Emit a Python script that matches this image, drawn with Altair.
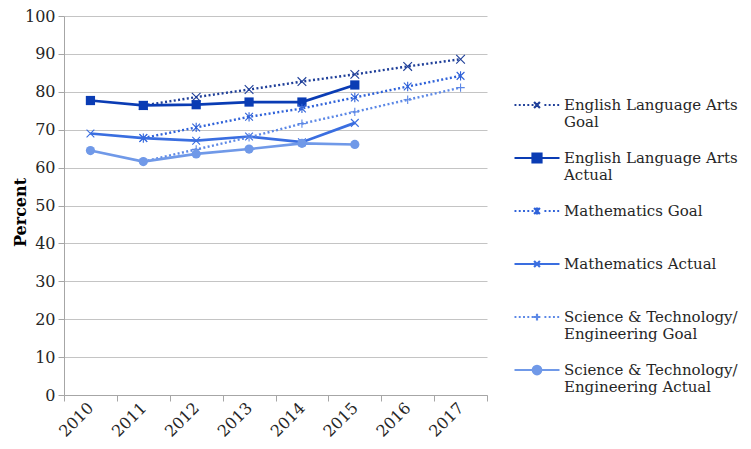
import altair as alt
import pandas as pd

years = ["2010", "2011", "2012", "2013", "2014", "2015", "2016", "2017"]
series = [
    "English Language Arts|Goal",
    "English Language Arts|Actual",
    "Mathematics Goal|",
    "Mathematics Actual|",
    "Science & Technology/|Engineering Goal",
    "Science & Technology/|Engineering Actual",
]
kinds = ["Goal", "Actual", "Goal", "Actual", "Goal", "Actual"]
colors = ["#1F3F99", "#0A3CB4", "#2F62D9", "#3A6EE0", "#5C88E6", "#7099E8"]
y_ticks = [0, 10, 20, 30, 40, 50, 60, 70, 80, 90, 100]

ela_goal = [None, 76.4, 78.6, 80.6, 82.7, 84.6, 86.7, 88.6]
ela_actual = [77.7, 76.4, 76.6, 77.3, 77.3, 81.8, None, None]
math_goal = [None, 67.8, 70.6, 73.4, 75.6, 78.5, 81.4, 84.2]
math_actual = [69.0, 67.8, 67.1, 68.2, 66.7, 71.8, None, None]
sci_goal = [None, 61.6, 64.8, 68.0, 71.6, 74.7, 77.9, 81.1]
sci_actual = [64.5, 61.6, 63.6, 64.9, 66.4, 66.1, None, None]
values = [ela_goal, ela_actual, math_goal, math_actual, sci_goal, sci_actual]

rows = []
for s, k, vals in zip(series, kinds, values):
    for yr, v in zip(years, vals):
        if v is not None:
            rows.append({"series": s, "kind": k, "year": yr, "value": v})
df = pd.DataFrame(rows)

FONT = "DejaVu Serif"

# ---- marker paths (plot) ----
P_X = "M-1,-1L1,1M-1,1L1,-1"
P_AST = "M-1,-1L1,1M-1,1L1,-1M0,-1.2L0,1.2"
P_PLUS = "M-1,0L1,0M0,-1L0,1"
markers = [
    dict(shape=P_X, size=75, filled=False, strokeWidth=1.1),
    dict(shape="square", size=85, filled=True),
    dict(shape=P_AST, size=60, filled=False, strokeWidth=1.1),
    dict(shape=P_X, size=60, filled=False, strokeWidth=1.1),
    dict(shape=P_PLUS, size=70, filled=False, strokeWidth=1.1),
    dict(shape="circle", size=85, filled=True),
]
line_styles = {
    "Goal": dict(strokeDash=[2, 2.4], strokeWidth=2.4),
    "Actual": dict(strokeWidth=2.7),
}

# ---- legend symbol paths (line + marker), unit = 22.5 px ----


def fmt(v):
    return f"{v:.3f}"


def dotted():
    parts = []
    x = -1.0
    while x < 1.0:
        if not (-0.24 < x < 0.2):
            parts.append(f"M{fmt(x)},0h0.085")
        x += 0.19
    return "".join(parts)


def solid():
    return "M-1,0H1"


def xmark(h):
    return (f"M{fmt(-h)},{fmt(-h)}L{fmt(h)},{fmt(h)}"
            f"M{fmt(-h)},{fmt(h)}L{fmt(h)},{fmt(-h)}")


def ast(h):
    return xmark(h) + f"M0,{fmt(-h * 1.2)}L0,{fmt(h * 1.2)}"


def plus(h):
    return f"M{fmt(-h)},0L{fmt(h)},0M0,{fmt(-h)}L0,{fmt(h)}"


def square(h):
    return f"M{fmt(-h)},{fmt(-h)}h{fmt(2 * h)}v{fmt(2 * h)}h{fmt(-2 * h)}Z"


def circle(r):
    return (f"M{fmt(r)},0A{fmt(r)},{fmt(r)} 0 1,1 {fmt(-r)},0"
            f"A{fmt(r)},{fmt(r)} 0 1,1 {fmt(r)},0Z")


legend_paths = [
    dotted() + xmark(0.13),
    solid() + square(0.2),
    dotted() + ast(0.13),
    solid() + xmark(0.13),
    dotted() + plus(0.15),
    solid() + circle(0.19),
]

x_enc = alt.X(
    "year:O",
    sort=years,
    scale=alt.Scale(type="band", domain=years, paddingInner=0, paddingOuter=0),
    axis=alt.Axis(
        title=None, tickBand="extent", labelAngle=-45, grid=False,
        tickSize=6, labelPadding=4, labelAlign="right", labelBaseline="middle",
    ),
)
y_enc = alt.Y(
    "value:Q",
    scale=alt.Scale(domain=[0, 100], nice=False),
    axis=alt.Axis(
        title="Percent", values=y_ticks, tickSize=6, labelPadding=3,
        titleFontWeight="bold", grid=True,
        titleX=-44, titleY=196, titleAngle=270,
        titleAlign="center", titleBaseline="middle",
    ),
)

base = alt.Chart(df)

line_layers = []
point_layers = []
for s, k, c, m in zip(series, kinds, colors, markers):
    sub = base.transform_filter(alt.datum.series == s)
    line_layers.append(
        sub.mark_line(color=c, **line_styles[k]).encode(x=x_enc, y=y_enc)
    )
    point_layers.append(
        sub.mark_point(color=c, opacity=1, **m).encode(x=x_enc, y=y_enc)
    )

leg = alt.Legend(
    title=None, orient="none", legendX=449, legendY=65,
    labelExpr="split(datum.label, '|')",
    symbolSize=2025, symbolStrokeWidth=2.2,
    symbolFillColor="white", symbolStrokeColor="black", symbolOpacity=1,
    labelFont=FONT, labelFontSize=15, labelColor="#262626",
    rowPadding=4, labelOffset=3, labelLimit=400,
)

legend_layer = base.transform_filter("false").mark_point(
    filled=True, strokeWidth=2.2, opacity=1
).encode(
    x=x_enc, y=y_enc,
    fill=alt.Fill("series:N", scale=alt.Scale(domain=series, range=colors), legend=leg),
    stroke=alt.Stroke("series:N", scale=alt.Scale(domain=series, range=colors), legend=leg),
    shape=alt.Shape("series:N", scale=alt.Scale(domain=series, range=legend_paths), legend=leg),
)

chart = alt.layer(
    *line_layers, *point_layers, legend_layer
).properties(
    width=423, height=379,
    autosize=alt.AutoSizeParams(type="none"),
    padding={"left": 56, "top": 8, "right": 256, "bottom": 46},
).configure_view(stroke=None).configure_axis(
    labelFont=FONT, labelFontSize=16, labelColor="#262626",
    titleFont=FONT, titleFontSize=16, titleColor="#000000",
    domainColor="#a6a6a6", tickColor="#a6a6a6", gridColor="#c4c4c4",
).configure_legend(
    labelFont=FONT, labelFontSize=15, labelColor="#262626",
)

chart.save("out.html", embed_options={"renderer": "svg", "actions": False})
